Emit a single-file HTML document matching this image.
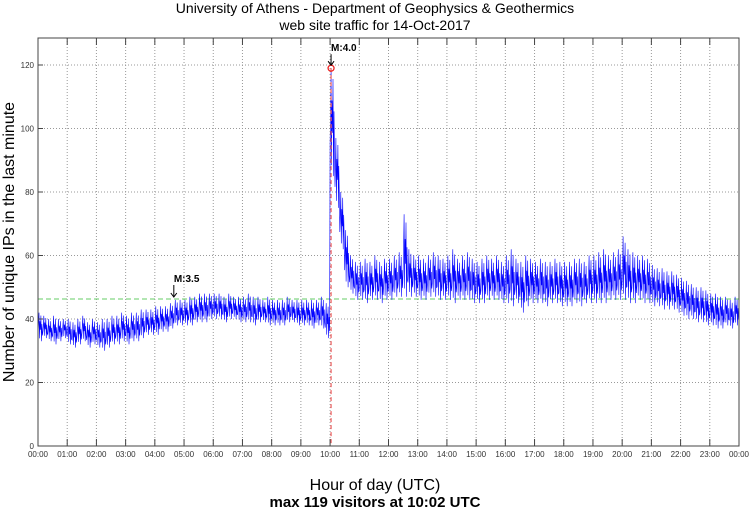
<!DOCTYPE html>
<html><head><meta charset="utf-8"><style>
body{margin:0;background:#fff;}
svg{display:block;font-family:"Liberation Sans",sans-serif;}
</style></head><body>
<svg id="chart" width="750" height="511" viewBox="0 0 750 511" xmlns="http://www.w3.org/2000/svg">
<text x="375" y="13" font-size="14" text-anchor="middle">University of Athens - Department of Geophysics &amp; Geothermics</text>
<text x="375" y="30" font-size="14" text-anchor="middle">web site traffic for 14-Oct-2017</text>
<text transform="translate(14,242) rotate(-90)" font-size="16" text-anchor="middle">Number of unique IPs in the last minute</text>
<text x="375" y="490" font-size="16" text-anchor="middle">Hour of day (UTC)</text>
<text x="375" y="507" font-size="15" font-weight="bold" text-anchor="middle">max 119 visitors at 10:02 UTC</text>
<g id="grid"></g><g id="series"></g><g id="annot"></g><g id="axes"></g>
</svg>
<script>
const yTicks=[0,20,40,60,80,100,120];
const hourLabels=["00:00","01:00","02:00","03:00","04:00","05:00","06:00","07:00","08:00","09:00","10:00","11:00","12:00","13:00","14:00","15:00","16:00","17:00","18:00","19:00","20:00","21:00","22:00","23:00","00:00"];
const lowVals=[33,34,33,32,33,34, 32,31,32,33,31,32, 31,30,31,32,32,33, 32,33,33,34,35,35, 35,36,36,37,38,38, 38,38,39,39,39,40,
40,40,39,40,40,39, 39,39,38,39,39,38, 38,38,38,39,39,38, 38,38,37,38,37,34, 85,75,62,50,48,46, 46,45,46,46,45,46,
46,47,47,47,47,47, 46,46,47,47,46,46, 46,45,46,46,46,45, 45,45,46,46,46,45, 45,44,45,42,44,45, 45,45,44,45,45,44,
44,44,45,44,45,45, 45,45,45,46,46,46, 46,45,45,46,45,45, 44,44,43,43,43,42, 41,40,40,39,39,38, 38,37,37,38,37,38];
const highVals=[42,41,40,41,40,40, 40,39,40,41,39,40, 39,40,40,41,41,42, 41,42,42,43,43,43, 44,44,44,45,46,46, 46,47,47,48,48,48,
48,48,47,48,47,47, 47,48,47,47,46,47, 46,46,46,47,46,46, 46,46,46,46,47,45, 119,97,80,68,60,58, 58,59,58,60,58,59,
59,60,61,73,62,60, 60,59,60,61,60,59, 60,62,59,60,61,59, 58,59,60,59,60,58, 60,62,59,58,60,59, 58,59,58,58,59,58,
58,58,59,59,58,60, 60,61,62,60,61,62, 66,62,61,60,60,59, 57,56,56,55,55,54, 53,52,51,50,50,49, 48,48,47,47,46,47];
const meanLevel=46.3;
const peakMinute=602, peakValue=119;
const quakeMinute=279;

const NS="http://www.w3.org/2000/svg";
const X0=38,X1=739,Y0=446,YT=38;
const xS=m=>X0+(X1-X0)*m/1440;
const yS=v=>Y0-(Y0-65)*v/120;
function mk(tag,attrs,parent){const e=document.createElementNS(NS,tag);for(const k in attrs)e.setAttribute(k,attrs[k]);document.getElementById(parent).appendChild(e);return e;}
yTicks.forEach(v=>{
 if(v>0){const l=mk('line',{x1:X0,x2:X1,y1:yS(v),y2:yS(v),stroke:'#999','stroke-dasharray':'1,2','stroke-width':1},'grid');
 
 }
 const t=mk('text',{x:X0-4,y:yS(v)+3,'font-size':8,'text-anchor':'end',fill:'#333'},'axes');t.textContent=v;
 
 
 mk('line',{x1:X0,x2:X0+5,y1:yS(v),y2:yS(v),stroke:'#444'},'axes');
});
hourLabels.forEach((h,i)=>{
 const x=xS(i*60);
 if(i>0&&i<24){const l=mk('line',{x1:x,x2:x,y1:YT,y2:Y0,stroke:'#999','stroke-dasharray':'1,2'},'grid');
 
 }
 mk('line',{x1:x,x2:x,y1:Y0,y2:Y0-7,stroke:'#444'},'axes');
 mk('line',{x1:x,x2:x,y1:YT,y2:YT+7,stroke:'#444'},'axes');
 const t=mk('text',{x:x,y:Y0+11,'font-size':8,'text-anchor':'middle',fill:'#333'},'axes');t.textContent=h;
 
 
});
const frame=mk('rect',{x:X0,y:YT,width:X1-X0,height:Y0-YT,fill:'none',stroke:'#444'},'axes');


const ml=mk('line',{x1:X0,x2:X1,y1:yS(meanLevel),y2:yS(meanLevel),stroke:'#6c6','stroke-dasharray':'5,3'},'series');


const frac=[0.3,0.6,1.0,0.1,0.7,0.4,0.9,0.0,0.6,0.2];
let pts=[];
lowVals.forEach((lo,b)=>{const hi=highVals[b];for(let j=0;j<10;j++){pts.push(xS(b*10+j).toFixed(1)+','+yS(lo+(hi-lo)*frac[j]).toFixed(1));}});
const line=mk('polyline',{points:pts.join(' '),fill:'none',stroke:'#00f','stroke-width':0.6},'series');


const px=xS(peakMinute);
const rv=mk('line',{x1:px,x2:px,y1:yS(peakValue),y2:Y0,stroke:'#e66','stroke-dasharray':'4,3','stroke-width':1.3},'annot');


const c=mk('circle',{cx:px,cy:yS(peakValue),r:3,fill:'none',stroke:'#e22','stroke-width':1.3},'annot');


mk('line',{x1:px,x2:px,y1:yS(peakValue)-14,y2:yS(peakValue)-3,stroke:'#000'},'annot');
mk('path',{d:`M${px-3},${yS(peakValue)-7} L${px},${yS(peakValue)-3} L${px+3},${yS(peakValue)-7}`,fill:'none',stroke:'#000'},'annot');
const t1=mk('text',{x:px,y:yS(peakValue)-17,'font-size':10,'font-weight':'bold'},'annot');t1.textContent='M:4.0';


const qx=xS(quakeMinute),qy=yS(meanLevel)-2;
mk('line',{x1:qx,x2:qx,y1:qy-12,y2:qy,stroke:'#000'},'annot');
mk('path',{d:`M${qx-3},${qy-4} L${qx},${qy} L${qx+3},${qy-4}`,fill:'none',stroke:'#000'},'annot');
const t2=mk('text',{x:qx,y:qy-15,'font-size':10,'font-weight':'bold'},'annot');t2.textContent='M:3.5';


</script>
</body></html>
